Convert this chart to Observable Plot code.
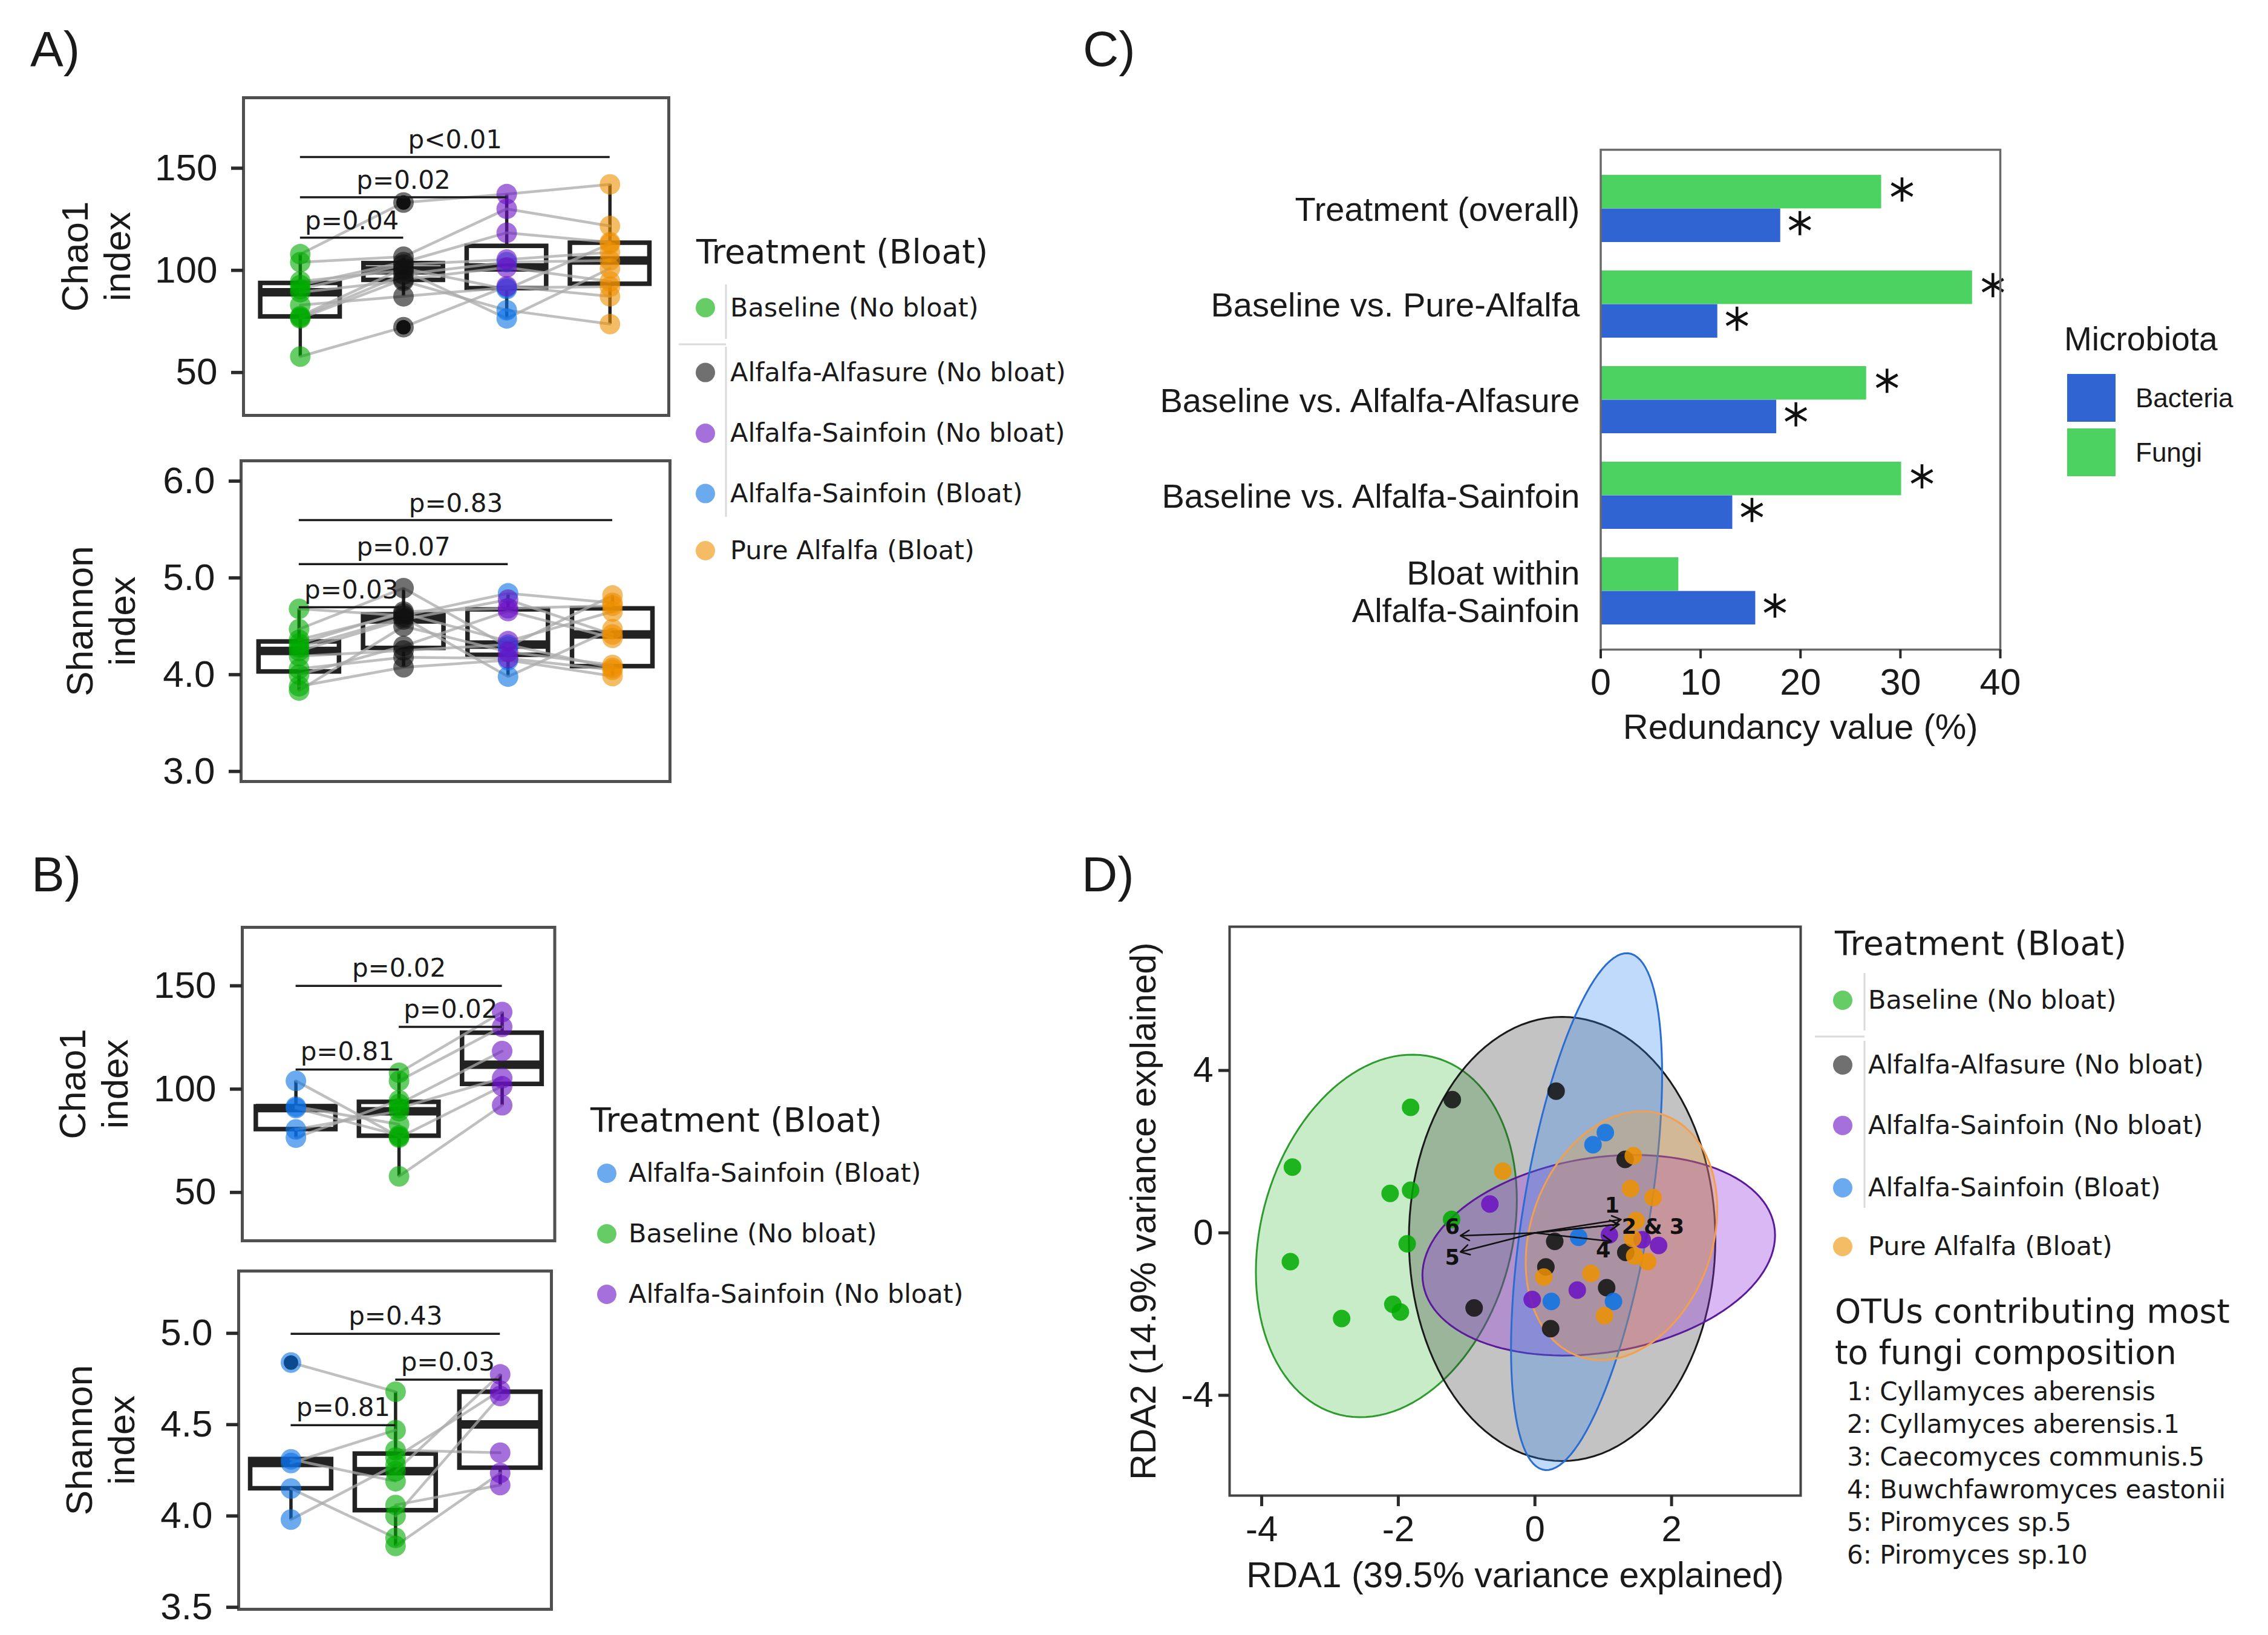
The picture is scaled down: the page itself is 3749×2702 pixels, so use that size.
<!DOCTYPE html>
<html>
<head>
<meta charset="utf-8">
<script src="https://cdn.jsdelivr.net/npm/d3@7"></script>
<script src="https://cdn.jsdelivr.net/npm/@observablehq/plot@0.6"></script>
<style>
  html, body { margin: 0; padding: 0; background: #ffffff; }
  #page { position: relative; width: 3749px; height: 2702px; background: #ffffff; overflow: hidden; }
  #page > svg { position: absolute; overflow: visible; }
</style>
</head>
<body>
<div id="page"></div>
<script>
// ================= DATA =================
const treatments = ["Baseline (No bloat)", "Alfalfa-Alfasure (No bloat)", "Alfalfa-Sainfoin (No bloat)", "Alfalfa-Sainfoin (Bloat)", "Pure Alfalfa (Bloat)"];
const treatmentColors = ["#00aa00", "#111111", "#6a10c4", "#0a72e6", "#ee9000"];

// 11 animals (crossover); the first five bloated on Alfalfa-Sainfoin
const animalBloat = [true, true, true, true, true, false, false, false, false, false, false];
const chaoBaseline = [94.6, 89.3, 77.6, 83, 77, 57.8, 76.5, 90.8, 92.8, 104, 107.9];
const chaoAlfasure = [100, 94.8, 101, 87.3, 98, 72.2, 95.6, 102.8, 104, 106.7, 133.2];
const chaoSainfoin = [76.5, 80.5, 90.8, 91.5, 104, 92.2, 101.4, 105.3, 118.4, 130.1, 137.3];
const chaoPure = [100.9, 73.7, 113, 92, 104.8, 87.3, 94.6, 108.8, 113.8, 121.7, 142.1];
const shanBaseline = [4.28, 3.88, 4.47, 4.19, 4.68, 4.06, 3.836, 4.36, 4.0, 4.32, 4.245];
const shanAlfasure = [4.59, 4.076, 4.894, 4.25, 4.61, 4.18, 4.5, 4.632, 4.296, 4.652, 4.57];
const shanSainfoin = [3.98, 4.15, 4.29, 4.31, 4.84, 4.169, 4.235, 4.346, 4.657, 4.686, 4.775];
const shanPure = [4.47, 3.985, 4.818, 4.07, 4.742, 4.05, 4.1, 4.652, 4.38, 4.712, 4.415];

const chaoTicks = [50, 100, 150];
const shanTicksA = [3, 4, 5, 6];
const shanTicksB = [3.5, 4, 4.5, 5];

// significance brackets (group indices 1-based, y in data units)
const sigA1Label = ["p<0.01", "p=0.02", "p=0.04"], sigA1From = [1, 1, 1], sigA1To = [4, 3, 2], sigA1Y = [155.5, 135.8, 116];
const sigA2Label = ["p=0.83", "p=0.07", "p=0.03"], sigA2From = [1, 1, 1], sigA2To = [4, 3, 2], sigA2Y = [5.597, 5.142, 4.697];
const sigB1Label = ["p=0.02", "p=0.02", "p=0.81"], sigB1From = [1, 2, 1], sigB1To = [3, 3, 2], sigB1Y = [150, 130.1, 109.5];
const sigB2Label = ["p=0.43", "p=0.03", "p=0.81"], sigB2From = [1, 2, 1], sigB2To = [3, 3, 2], sigB2Y = [4.997, 4.746, 4.497];

// Panel C
const rdaCategories = ["Treatment (overall)", "Baseline vs. Pure-Alfalfa", "Baseline vs. Alfalfa-Alfasure", "Baseline vs. Alfalfa-Sainfoin", "Bloat within\nAlfalfa-Sainfoin"];
const rdaFungi = [28.1, 37.2, 26.6, 30.1, 7.8];
const rdaBacteria = [18.0, 11.7, 17.6, 13.2, 15.5];
const rdaFungiSig = [true, true, true, true, false];
const rdaBacteriaSig = [true, true, true, true, true];
const microbiota = ["Bacteria", "Fungi"];
const microbiotaColors = ["#3064d2", "#4cd260"];
const redundancyTicks = [0, 10, 20, 30, 40];

// Panel D (RDA scores)
const rdaXBaseline = [-1.82, -3.55, -2.12, -1.82, -1.22, -1.87, -3.58, -2.83, -2.08, -1.97];
const rdaYBaseline = [3.09, 1.62, 0.97, 1.05, 0.33, -0.27, -0.71, -2.11, -1.76, -1.95];
const rdaXAlfasure = [-1.21, 0.31, 1.32, 0.29, 0.16, 1.05, 1.33, -0.89, 0.23];
const rdaYAlfasure = [3.28, 3.49, 1.81, -0.21, -0.84, -1.35, -0.48, -1.85, -2.36];
const rdaXSainNo = [-0.66, 1.09, 1.57, 1.81, 0.62, -0.04];
const rdaYSainNo = [0.71, -0.05, -0.17, -0.31, -1.41, -1.64];
const rdaXSainBloat = [1.03, 0.85, 0.64, 0.24, 1.15];
const rdaYSainBloat = [2.47, 2.17, -0.11, -1.69, -1.69];
const rdaXPure = [-0.47, 1.44, 1.40, 1.73, 1.48, 1.43, 1.46, 1.65, 0.82, 0.13, 1.02];
const rdaYPure = [1.52, 1.90, 1.09, 0.87, 0.30, -0.14, -0.57, -0.71, -1.00, -1.09, -2.04];
// ellipses: centre, half-extent in x and y, phase tilt
const ellCx = [-2.175, 0.398, 0.934, 0.756, 1.267];
const ellCy = [-0.075, -0.15, -0.551, 0.523, -0.071];
const ellAx = [1.91, 2.243, 2.581, 1.106, 1.402];
const ellAy = [4.465, 5.47, 2.47, 6.365, 3.064];
const ellTilt = [0.2, 0, 0.2, 0.56, 0.216];
const ellFill = ["#37bb37", "#262626", "#9533dd", "#2a84ee", "#f5a030"];
const ellFillOpacity = [0.28, 0.28, 0.35, 0.3, 0.3];
const ellStroke = ["#2e9b2e", "#1a1a1a", "#5a1a9a", "#2a6cd0", "#f0a050"];
// OTU vectors
const otuX = [1.26, 1.23, 1.23, 1.12, -1.09, -1.09];
const otuY = [0.33, 0.21, 0.21, -0.21, -0.47, -0.07];
const otuLabelText = ["1", "2 & 3", "4", "5", "6"];
const otuLabelX = [1.13, 1.27, 1.0, -1.21, -1.21];
const otuLabelY = [0.66, 0.14, -0.43, -0.62, 0.14];
const otuLabelAnchor = ["middle", "start", "middle", "middle", "middle"];
const otuList = ["1: Cyllamyces aberensis", "2: Cyllamyces aberensis.1", "3: Caecomyces communis.5", "4: Buwchfawromyces eastonii", "5: Piromyces sp.5", "6: Piromyces sp.10"];
const rdaTicksX = [-4, -2, 0, 2];
const rdaTicksY = [-4, 0, 4];

// ================= HELPERS =================
const SANS = "'Liberation Sans', Arial, Helvetica, sans-serif";
const DEJA = "'DejaVu Sans', Verdana, sans-serif";
const page = document.getElementById("page");
function place(el, left, top) { el.style.left = left + "px"; el.style.top = top + "px"; page.appendChild(el); }
const hyphenFmt = d => (d < 0 ? "-" + Math.abs(d) : String(d));

function boxStats(vals) {
  const s = vals.slice().sort(d3.ascending);
  const q1 = d3.quantile(s, 0.25), med = d3.quantile(s, 0.5), q3 = d3.quantile(s, 0.75);
  const iqr = q3 - q1, lim0 = q1 - 1.5 * iqr, lim1 = q3 + 1.5 * iqr;
  const inside = s.filter(v => v >= lim0 && v <= lim1);
  return {q1, med, q3, lo: d3.min(inside), hi: d3.max(inside), out: s.filter(v => v < lim0 || v > lim1)};
}

const seriesA = (base, alfa, sain, pure) => [
  base.map((v, i) => ({id: i, v, t: treatments[0]})),
  alfa.map((v, i) => ({id: i, v, t: treatments[1]})),
  sain.map((v, i) => ({id: i, v, t: animalBloat[i] ? treatments[3] : treatments[2]})),
  pure.map((v, i) => ({id: i, v, t: treatments[4]}))
];
const seriesB = (base, sain) => [
  sain.map((v, i) => ({id: i, v, t: treatments[3]})).filter((d, i) => animalBloat[i]),
  base.map((v, i) => ({id: i, v, t: treatments[0]})),
  sain.map((v, i) => ({id: i, v, t: treatments[2]})).filter((d, i) => !animalBloat[i])
];

function boxPanel(cfg) {
  const {series, frame, xDomain, yDomain, yTicks, yFormat, sigLabel, sigFrom, sigTo, sigY, ylabel, ylabelDx, boxHalf, sigDy} = cfg;
  const mL = frame.x0, mT = 20, mR = 20, mB = 40;
  const W = frame.x1 - frame.x0, H = frame.y1 - frame.y0;
  const pts = series.flatMap((s, gi) => s.map(p => ({...p, x: gi + 1})));
  const st = series.map((s, gi) => ({x: gi + 1, ...boxStats(s.map(p => p.v))}));
  const outl = st.flatMap(s => s.out.map(v => ({x: s.x, v})));
  const lineRows = d3.sort(pts, d => d.id, d => d.x);
  const sigRows = sigLabel.map((label, i) => ({label, from: sigFrom[i], to: sigTo[i], y: sigY[i]}));
  const svg = Plot.plot({
    width: mL + W + mR, height: mT + H + mB,
    marginLeft: mL, marginRight: mR, marginTop: mT, marginBottom: mB,
    x: {domain: xDomain, axis: null},
    y: {domain: yDomain, axis: null},
    color: {domain: treatments, range: treatmentColors},
    style: {fontFamily: SANS, color: "#1a1a1a", background: "transparent", overflow: "visible"},
    marks: [
      Plot.ruleX(st, {x: "x", y1: "lo", y2: "q1", stroke: "#222", strokeWidth: 5.5}),
      Plot.ruleX(st, {x: "x", y1: "q3", y2: "hi", stroke: "#222", strokeWidth: 5.5}),
      Plot.rect(st, {x1: d => d.x - boxHalf, x2: d => d.x + boxHalf, y1: "q1", y2: "q3", fill: "none", stroke: "#222", strokeWidth: 7.5}),
      Plot.ruleY(st, {y: "med", x1: d => d.x - boxHalf, x2: d => d.x + boxHalf, stroke: "#222", strokeWidth: 14}),
      Plot.line(lineRows, {x: "x", y: "v", z: "id", stroke: "#aaaaaa", strokeOpacity: 0.75, strokeWidth: 4.5}),
      Plot.dot(outl, {x: "x", y: "v", r: 12, fill: "#111"}),
      Plot.dot(pts, {x: "x", y: "v", fill: "t", r: 17, fillOpacity: 0.6}),
      Plot.ruleY(sigRows, {y: "y", x1: "from", x2: "to", stroke: "#1a1a1a", strokeWidth: 3.5}),
      Plot.text(sigRows, {x: d => (d.from + d.to) / 2, y: "y", text: "label", dy: -sigDy, lineAnchor: "bottom", fontFamily: DEJA, fontSize: 42, fill: "#1a1a1a"}),
      Plot.frame({stroke: "#505050", strokeWidth: 5}),
      Plot.axisY({ticks: yTicks, tickFormat: yFormat, label: null, tickSize: 20, tickPadding: 23, stroke: "#2a2a2a", strokeWidth: 5.5, fontSize: 62}),
      Plot.text([ylabel], {text: d => d, frameAnchor: "left", textAnchor: "middle", dx: ylabelDx, rotate: -90, fontSize: 62, lineHeight: 1.12})
    ]
  });
  place(svg, 0, frame.y0 - mT);
}

// ================= PANEL A =================
boxPanel({
  series: seriesA(chaoBaseline, chaoAlfasure, chaoSainfoin, chaoPure),
  frame: {x0: 402, x1: 1105, y0: 161, y1: 686},
  xDomain: [0.45, 4.57], yDomain: [29, 184.5], yTicks: chaoTicks, yFormat: d => String(d),
  sigLabel: sigA1Label, sigFrom: sigA1From, sigTo: sigA1To, sigY: sigA1Y,
  ylabel: "Chao1\nindex", ylabelDx: -244.6, boxHalf: 0.385, sigDy: 14
});
boxPanel({
  series: seriesA(shanBaseline, shanAlfasure, shanSainfoin, shanPure),
  frame: {x0: 398, x1: 1107, y0: 761, y1: 1291},
  xDomain: [0.445, 4.55], yDomain: [2.896, 6.21], yTicks: shanTicksA, yFormat: d => d.toFixed(1),
  sigLabel: sigA2Label, sigFrom: sigA2From, sigTo: sigA2To, sigY: sigA2Y,
  ylabel: "Shannon\nindex", ylabelDx: -232.6, boxHalf: 0.385, sigDy: 14
});

// ================= PANEL B =================
boxPanel({
  series: seriesB(chaoBaseline, chaoSainfoin),
  frame: {x0: 400, x1: 916.5, y0: 1532, y1: 2050},
  xDomain: [0.48, 3.51], yDomain: [26.6, 178.3], yTicks: chaoTicks, yFormat: d => String(d),
  sigLabel: sigB1Label, sigFrom: sigB1From, sigTo: sigB1To, sigY: sigB1Y,
  ylabel: "Chao1\nindex", ylabelDx: -246.6, boxHalf: 0.386, sigDy: 15
});
boxPanel({
  series: seriesB(shanBaseline, shanSainfoin),
  frame: {x0: 394, x1: 911, y0: 2100, y1: 2659},
  xDomain: [0.5, 3.49], yDomain: [3.489, 5.341], yTicks: shanTicksB, yFormat: d => d.toFixed(1),
  sigLabel: sigB2Label, sigFrom: sigB2From, sigTo: sigB2To, sigY: sigB2Y,
  ylabel: "Shannon\nindex", ylabelDx: -229.6, boxHalf: 0.387, sigDy: 15
});

// ================= PANEL C =================
(function () {
  const frame = {x0: 2645.5, x1: 3306, y0: 247, y1: 1073};
  const left = 1950, mL = frame.x0 - left, mT = 20, mR = 20, mB = 190;
  const n = rdaCategories.length, pIn = 0.3, pOut = 0.25;
  const step = (frame.y1 - frame.y0) / (n - pIn + 2 * pOut);
  const half = step * (1 - pIn) / 2;
  const fungiRows = rdaCategories.map((c, i) => ({cat: c, m: "Fungi", v: rdaFungi[i], sig: rdaFungiSig[i]}));
  const bactRows = rdaCategories.map((c, i) => ({cat: c, m: "Bacteria", v: rdaBacteria[i], sig: rdaBacteriaSig[i]}));
  const svg = Plot.plot({
    width: mL + (frame.x1 - frame.x0) + mR, height: mT + (frame.y1 - frame.y0) + mB,
    marginLeft: mL, marginRight: mR, marginTop: mT, marginBottom: mB,
    x: {domain: [0, 40], axis: null},
    y: {type: "band", domain: rdaCategories, paddingInner: pIn, paddingOuter: pOut, axis: null},
    color: {domain: microbiota, range: microbiotaColors},
    style: {fontFamily: SANS, color: "#1a1a1a", background: "transparent", overflow: "visible"},
    marks: [
      Plot.barX(fungiRows, {x: "v", y: "cat", fill: "m", insetBottom: half}),
      Plot.barX(bactRows, {x: "v", y: "cat", fill: "m", insetTop: half}),
      Plot.dot(fungiRows.filter(d => d.sig), {x: "v", y: "cat", symbol: "asterisk", r: 19, stroke: "#111", strokeWidth: 4.5, dx: 34, dy: -half / 2 - 4}),
      Plot.dot(bactRows.filter(d => d.sig), {x: "v", y: "cat", symbol: "asterisk", r: 19, stroke: "#111", strokeWidth: 4.5, dx: 32, dy: half / 2 - 4}),
      Plot.frame({stroke: "#6a6a6a", strokeWidth: 3.5}),
      Plot.axisX({ticks: redundancyTicks, label: null, tickSize: 15, tickPadding: 16, stroke: "#2a2a2a", strokeWidth: 4, fontSize: 61}),
      Plot.text(rdaCategories, {y: d => d, text: d => d, frameAnchor: "left", textAnchor: "end", dx: -34.5, fontSize: 56, lineHeight: 1.1}),
      Plot.text(["Redundancy value (%)"], {text: d => d, frameAnchor: "bottom", textAnchor: "middle", dy: 147, lineAnchor: "bottom", fontSize: 58})
    ]
  });
  place(svg, left, frame.y0 - mT);
})();

// ================= PANEL D =================
(function () {
  const frame = {x0: 2032, x1: 2976, y0: 1530.6, y1: 2470.7};
  const left = 1800, mL = frame.x0 - left, mT = 20, mR = 20, mB = 200;
  const xs = [rdaXBaseline, rdaXAlfasure, rdaXSainNo, rdaXSainBloat, rdaXPure];
  const ys = [rdaYBaseline, rdaYAlfasure, rdaYSainNo, rdaYSainBloat, rdaYPure];
  const pts = treatments.flatMap((t, i) => xs[i].map((x, j) => ({t, x, y: ys[i][j]})));
  const ellipseRows = i => d3.range(0, 361, 3).map(deg => {
    const a = deg * Math.PI / 180;
    return {x: ellCx[i] + ellAx[i] * Math.cos(a), y: ellCy[i] + ellAy[i] * Math.sin(a + ellTilt[i])};
  });
  const otus = otuX.map((x, i) => ({x, y: otuY[i]}));
  const labels = otuLabelText.map((s, i) => ({s, x: otuLabelX[i], y: otuLabelY[i], a: otuLabelAnchor[i]}));
  const svg = Plot.plot({
    width: mL + (frame.x1 - frame.x0) + mR, height: mT + (frame.y1 - frame.y0) + mB,
    marginLeft: mL, marginRight: mR, marginTop: mT, marginBottom: mB,
    x: {domain: [-4.47, 3.89], axis: null},
    y: {domain: [-6.47, 7.54], axis: null},
    color: {domain: treatments, range: treatmentColors},
    style: {fontFamily: SANS, color: "#1a1a1a", background: "transparent", overflow: "visible"},
    marks: [
      ...treatments.map((t, i) => Plot.line(ellipseRows(i), {x: "x", y: "y", fill: ellFill[i], fillOpacity: ellFillOpacity[i], stroke: ellStroke[i], strokeWidth: 3})),
      Plot.dot(pts, {x: "x", y: "y", fill: "t", r: 14.5, fillOpacity: 0.85}),
      Plot.arrow(otus, {x1: 0, y1: 0, x2: "x", y2: "y", stroke: "#111", strokeWidth: 2.5, headLength: 10}),
      Plot.text(labels.filter(d => d.a === "middle"), {x: "x", y: "y", text: "s", fontFamily: DEJA, fontWeight: "bold", fontSize: 35, fill: "#111"}),
      Plot.text(labels.filter(d => d.a === "start"), {x: "x", y: "y", text: "s", textAnchor: "start", fontFamily: DEJA, fontWeight: "bold", fontSize: 35, fill: "#111"}),
      Plot.frame({stroke: "#444", strokeWidth: 4}),
      Plot.axisX({ticks: rdaTicksX, tickFormat: hyphenFmt, label: null, tickSize: 18, tickPadding: 15, stroke: "#2a2a2a", strokeWidth: 5, fontSize: 60}),
      Plot.axisY({ticks: rdaTicksY, tickFormat: hyphenFmt, label: null, tickSize: 18, tickPadding: 9, stroke: "#2a2a2a", strokeWidth: 5, fontSize: 60}),
      Plot.text(["RDA1 (39.5% variance explained)"], {text: d => d, frameAnchor: "bottom", textAnchor: "middle", dy: 151, lineAnchor: "bottom", fontSize: 59}),
      Plot.text(["RDA2 (14.9% variance explained)"], {text: d => d, frameAnchor: "left", textAnchor: "middle", dx: -123, rotate: -90, lineAnchor: "bottom", fontSize: 59})
    ]
  });
  place(svg, left, frame.y0 - mT);
})();

// ================= LEGENDS & PANEL LETTERS =================
(function () {
  const ov = d3.select(page).insert("svg", ":first-child")
    .attr("width", 3749).attr("height", 2702)
    .style("left", "0px").style("top", "0px");
  const text = (x, y, s, size, family, anchor = "start") =>
    ov.append("text").attr("x", x).attr("y", y).attr("font-size", size).attr("font-family", family)
      .attr("fill", "#1a1a1a").attr("text-anchor", anchor).text(s);
  const glitch = (x1, y1, x2, y2) => ov.append("line").attr("x1", x1).attr("y1", y1).attr("x2", x2).attr("y2", y2)
      .attr("stroke", "#dadada").attr("stroke-width", 3);

  // panel letters
  text(50, 109, "A)", 82, SANS);
  text(1790, 109, "C)", 82, SANS);
  text(52, 1473, "B)", 82, SANS);
  text(1788, 1473, "D)", 82, SANS);

  const colorOf = t => treatmentColors[treatments.indexOf(t)];
  function treatLegend(x, titleY, dotX, textX, ys, items) {
    text(x, titleY, "Treatment (Bloat)", 55, DEJA);
    items.forEach((t, i) => {
      ov.append("circle").attr("cx", dotX).attr("cy", ys[i]).attr("r", 16).attr("fill", colorOf(t)).attr("fill-opacity", 0.6);
      text(textX, ys[i] + 14, t, 43, DEJA);
    });
  }
  // Panel A legend
  glitch(1200, 470, 1200, 560); glitch(1200, 573, 1200, 854); glitch(1122, 569, 1200, 569);
  treatLegend(1151, 435, 1166, 1207, [508.5, 615.6, 716, 815.6, 910], treatments);
  // Panel B legend
  treatLegend(976, 1870, 1003, 1039, [1939, 2039, 2139], [treatments[3], treatments[0], treatments[2]]);
  // Panel D legend
  glitch(3082, 1608, 3082, 1703); glitch(3082, 1720, 3082, 1996); glitch(3000, 1713, 3082, 1713);
  treatLegend(3033, 1578, 3046, 3088, [1653, 1760, 1860, 1963, 2060], treatments);
  text(3033, 2186, "OTUs contributing most", 55, DEJA);
  text(3033, 2254, "to fungi composition", 55, DEJA);
  otuList.forEach((s, i) => text(3053, 2314 + 54 * i, s, 42, DEJA));

  // Panel C legend
  text(3412, 579, "Microbiota", 55, SANS);
  microbiota.forEach((m, i) => {
    const y0 = 618 + i * 90;
    ov.append("rect").attr("x", 3417).attr("y", y0).attr("width", 80).attr("height", 79).attr("fill", microbiotaColors[i]);
    text(3530, y0 + 40 + 15, m, 44, SANS);
  });
})();
</script>
</body>
</html>
